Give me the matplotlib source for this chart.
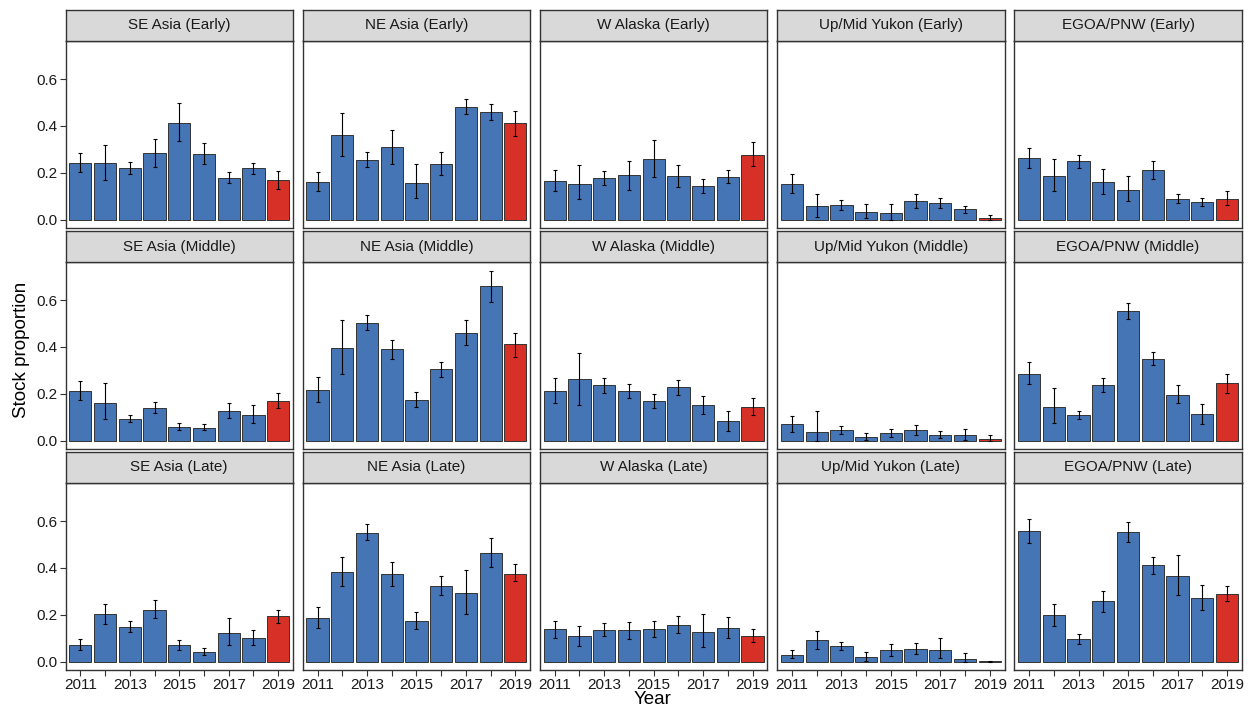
import matplotlib.pyplot as plt
import numpy as np

years = [2011, 2012, 2013, 2014, 2015, 2016, 2017, 2018, 2019]
stocks = ['SE Asia', 'NE Asia', 'W Alaska', 'Up/Mid Yukon', 'EGOA/PNW']
periods = ['Early', 'Middle', 'Late']

# stock proportions, rows = stocks, cols = years
prop_early = [
    [0.242, 0.241, 0.220, 0.282, 0.414, 0.279, 0.177, 0.219, 0.167],
    [0.161, 0.359, 0.255, 0.310, 0.158, 0.236, 0.481, 0.459, 0.412],
    [0.164, 0.153, 0.177, 0.188, 0.257, 0.185, 0.145, 0.183, 0.276],
    [0.151, 0.056, 0.062, 0.032, 0.028, 0.078, 0.072, 0.043, 0.007],
    [0.263, 0.185, 0.249, 0.161, 0.128, 0.210, 0.089, 0.075, 0.088],
]
lo_early = [
    [0.201, 0.170, 0.194, 0.224, 0.334, 0.238, 0.155, 0.194, 0.131],
    [0.123, 0.271, 0.224, 0.239, 0.092, 0.188, 0.449, 0.427, 0.355],
    [0.120, 0.087, 0.147, 0.128, 0.183, 0.139, 0.114, 0.154, 0.229],
    [0.113, 0.010, 0.041, 0.006, 0.000, 0.050, 0.051, 0.026, 0.000],
    [0.222, 0.120, 0.222, 0.109, 0.078, 0.172, 0.070, 0.057, 0.060],
]
hi_early = [
    [0.282, 0.318, 0.246, 0.343, 0.499, 0.326, 0.202, 0.242, 0.207],
    [0.201, 0.455, 0.289, 0.381, 0.235, 0.288, 0.516, 0.494, 0.465],
    [0.210, 0.232, 0.208, 0.251, 0.339, 0.232, 0.173, 0.210, 0.329],
    [0.195, 0.109, 0.085, 0.066, 0.067, 0.109, 0.091, 0.057, 0.020],
    [0.304, 0.257, 0.277, 0.214, 0.186, 0.251, 0.110, 0.091, 0.123],
]

prop_middle = [
    [0.213, 0.161, 0.092, 0.139, 0.058, 0.055, 0.126, 0.109, 0.169],
    [0.216, 0.396, 0.502, 0.390, 0.175, 0.305, 0.461, 0.660, 0.410],
    [0.213, 0.261, 0.235, 0.212, 0.168, 0.228, 0.152, 0.082, 0.145],
    [0.072, 0.035, 0.045, 0.013, 0.032, 0.045, 0.025, 0.022, 0.007],
    [0.286, 0.143, 0.109, 0.238, 0.553, 0.350, 0.196, 0.112, 0.244],
]
lo_middle = [
    [0.174, 0.091, 0.077, 0.117, 0.044, 0.044, 0.098, 0.074, 0.137],
    [0.164, 0.283, 0.470, 0.349, 0.145, 0.273, 0.409, 0.591, 0.358],
    [0.162, 0.152, 0.203, 0.180, 0.139, 0.196, 0.112, 0.042, 0.108],
    [0.038, 0.000, 0.029, 0.001, 0.016, 0.025, 0.012, 0.001, 0.000],
    [0.241, 0.076, 0.091, 0.207, 0.521, 0.323, 0.161, 0.072, 0.203],
]
hi_middle = [
    [0.255, 0.247, 0.111, 0.164, 0.076, 0.072, 0.159, 0.150, 0.203],
    [0.270, 0.514, 0.536, 0.429, 0.207, 0.337, 0.514, 0.726, 0.460],
    [0.267, 0.375, 0.266, 0.242, 0.200, 0.260, 0.191, 0.127, 0.182],
    [0.104, 0.126, 0.064, 0.031, 0.048, 0.067, 0.042, 0.047, 0.023],
    [0.334, 0.226, 0.127, 0.269, 0.588, 0.380, 0.238, 0.156, 0.285],
]

prop_late = [
    [0.072, 0.203, 0.149, 0.222, 0.070, 0.042, 0.120, 0.099, 0.194],
    [0.184, 0.382, 0.550, 0.372, 0.172, 0.324, 0.293, 0.464, 0.375],
    [0.139, 0.108, 0.136, 0.133, 0.139, 0.158, 0.127, 0.143, 0.111],
    [0.029, 0.092, 0.066, 0.018, 0.048, 0.054, 0.048, 0.009, 0.001],
    [0.556, 0.200, 0.095, 0.257, 0.552, 0.410, 0.366, 0.272, 0.289],
]
lo_late = [
    [0.048, 0.162, 0.126, 0.184, 0.051, 0.028, 0.070, 0.070, 0.166],
    [0.143, 0.324, 0.517, 0.321, 0.137, 0.285, 0.204, 0.404, 0.342],
    [0.102, 0.066, 0.108, 0.095, 0.105, 0.123, 0.063, 0.101, 0.085],
    [0.013, 0.055, 0.047, 0.001, 0.023, 0.032, 0.013, 0.000, 0.000],
    [0.507, 0.153, 0.074, 0.212, 0.511, 0.372, 0.283, 0.222, 0.257],
]
hi_late = [
    [0.095, 0.245, 0.174, 0.261, 0.093, 0.057, 0.184, 0.133, 0.222],
    [0.231, 0.445, 0.587, 0.423, 0.210, 0.364, 0.390, 0.526, 0.415],
    [0.175, 0.153, 0.164, 0.169, 0.174, 0.193, 0.204, 0.188, 0.139],
    [0.047, 0.131, 0.085, 0.041, 0.074, 0.077, 0.101, 0.035, 0.003],
    [0.607, 0.247, 0.117, 0.301, 0.596, 0.447, 0.455, 0.326, 0.324],
]

highlight_year = 2019

props = [prop_early, prop_middle, prop_late]
los = [lo_early, lo_middle, lo_late]
his = [hi_early, hi_middle, hi_late]

plt.rcParams['font.family'] = ['Liberation Sans', 'DejaVu Sans']

W, H = 1253, 708
fig = plt.figure(figsize=(W / 100, H / 100), dpi=100)

blue = '#4575B4'
red = '#D73027'
border = '#333333'

left0, col_step, pw = 65.5, 237.2, 227.5
strip_top0, row_step, sh, ph = 10, 221, 31, 187

ymax = max(max(max(r) for r in h) for h in his)
ylim = (-0.05 * ymax, 1.05 * ymax)

x = np.array(years)
for i, period in enumerate(periods):
    for j, stock in enumerate(stocks):
        left = left0 + j * col_step
        stop = strip_top0 + i * row_step
        ptop = stop + sh
        # panel
        ax = fig.add_axes([left / W, 1 - (ptop + ph) / H, pw / W, ph / H])
        p = np.array(props[i][j])
        lo = np.array(los[i][j])
        hi = np.array(his[i][j])
        cols = [red if yr == highlight_year else blue for yr in years]
        ax.bar(x, p, width=0.9, color=cols, edgecolor=border, linewidth=0.7, zorder=2)
        ax.errorbar(x, p, yerr=[p - lo, hi - p], fmt='none', ecolor='black',
                    elinewidth=0.8, capsize=1.4, capthick=0.8, zorder=3)
        ax.set_xlim(years[0] - 0.6, years[-1] + 0.6)
        ax.set_ylim(*ylim)
        for s in ax.spines.values():
            s.set_color(border)
            s.set_linewidth(1.0)
        ax.set_yticks([0.0, 0.2, 0.4, 0.6])
        ax.set_xticks(years)
        ax.tick_params(length=4, width=0.8, color=border, labelsize=11,
                       labelcolor='#1a1a1a', pad=2)
        if j == 0:
            ax.set_yticklabels(['0.0', '0.2', '0.4', '0.6'])
        else:
            ax.tick_params(axis='y', left=False, labelleft=False)
        if i == len(periods) - 1:
            ax.set_xticklabels([str(yr) if yr % 2 == 1 else '' for yr in years])
        else:
            ax.tick_params(axis='x', bottom=False, labelbottom=False)

        # strip
        sax = fig.add_axes([left / W, 1 - ptop / H, pw / W, sh / H])
        sax.set_facecolor('#D9D9D9')
        sax.set_xticks([])
        sax.set_yticks([])
        for s in sax.spines.values():
            s.set_color(border)
            s.set_linewidth(1.0)
        sax.text(0.5, 0.5, f'{stock} ({period})', ha='center', va='center',
                 fontsize=11, color='#1a1a1a', transform=sax.transAxes)

fig.text(22 / W, 1 - 350 / H, 'Stock proportion', rotation=90, ha='center',
         va='center', fontsize=13.5)
fig.text(653 / W, 1 - 699 / H, 'Year', ha='center', va='center', fontsize=13.5)

fig.savefig('out.png', dpi=100)
